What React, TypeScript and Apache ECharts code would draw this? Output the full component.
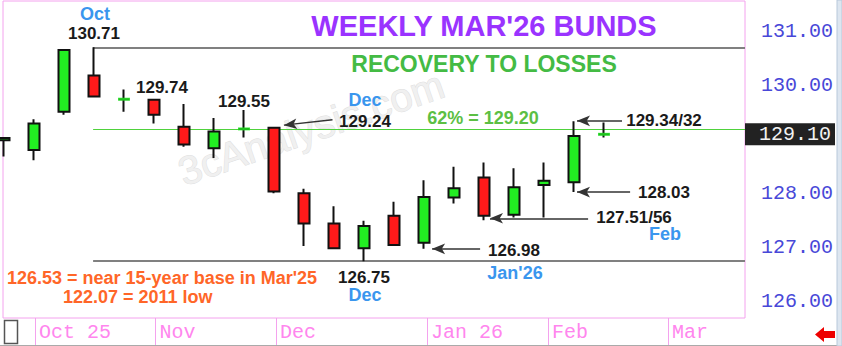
import React, { useEffect, useRef } from 'react';
import * as echarts from 'echarts';

// Weekly Mar'26 Bund candles (week starting Monday)
const weeks = [
  '2025-09-29', '2025-10-06', '2025-10-13', '2025-10-20', '2025-10-27',
  '2025-11-03', '2025-11-10', '2025-11-17', '2025-11-24', '2025-12-01',
  '2025-12-08', '2025-12-15', '2025-12-22', '2025-12-29', '2026-01-05',
  '2026-01-12', '2026-01-19', '2026-01-26', '2026-02-02', '2026-02-09',
  '2026-02-16',
];
const opens = [
  128.99, 128.81, 129.52, 130.19, 129.75,
  129.74, 129.24, 128.84, 129.20, 129.22,
  128.01, 127.45, 126.99, 127.59, 127.09,
  127.93, 128.30, 127.61, 128.16, 128.21,
  129.10,
];
const closes = [
  129.03, 129.30, 130.66, 129.80, 129.75,
  129.46, 128.91, 129.15, 129.20, 128.04,
  127.45, 126.99, 127.40, 127.05, 127.94,
  128.10, 127.59, 128.12, 128.24, 129.07,
  129.10,
];
const lows = [
  128.69, 128.62, 129.46, 129.78, 129.52,
  129.30, 128.87, 128.66, 129.04, 128.01,
  127.03, 126.97, 126.75, 127.04, 126.98,
  127.82, 127.51, 127.56, 127.56, 128.03,
  129.04,
];
const highs = [
  129.04, 129.38, 130.67, 130.71, 129.93,
  129.74, 129.66, 129.40, 129.55, 129.24,
  128.09, 127.77, 127.50, 127.85, 128.25,
  128.50, 128.58, 128.47, 128.58, 129.34,
  129.32,
];

const monthLabels = ['Oct 25', 'Nov', 'Dec', 'Jan 26', 'Feb', 'Mar'];
const monthTickPos = [1.03, 5.05, 9.07, 14.1, 18.13, 22.13];
const yTickValues = [126, 127, 128, 130, 131];

const octHigh = 130.71;
const decLow = 126.75;
const fib62 = 129.2;
const lastPrice = 129.1;

const X_MIN = -1 / 30;
const X_MAX = 24.7;
const Y_MIN = 125.6985;
const Y_MAX = 131.5685;

const PINK = '#f4a2ee';
const SANS = '"Liberation Sans", Arial, sans-serif';
const MONO = '"Liberation Mono", monospace';

export default function App() {
  const ref = useRef<HTMLDivElement>(null);

  useEffect(() => {
    document.body.style.margin = '0';
    const chart = echarts.init(ref.current!, null, { renderer: 'svg' });

    const candleData = weeks.map((w, i) => [i, opens[i], closes[i], lows[i], highs[i]]);
    const dojiData = weeks
      .map((w, i) => [i, (opens[i] + closes[i]) / 2, Math.abs(opens[i] - closes[i])])
      .filter((d) => d[2] < 0.015 && d[0] > 0)
      .map((d) => [d[0], d[1]]);

    const arrowStyle = { color: '#333', width: 1.5, type: 'solid' as const };
    const arrow = (from: number[], to: number[]) => [
      { coord: from, symbol: 'none', lineStyle: arrowStyle },
      { coord: to, symbol: 'arrow', symbolSize: [8, 13], lineStyle: arrowStyle },
    ];
    const hline = (v: number, color: string, width: number) => [
      { coord: [2.97, v], symbol: 'none', lineStyle: { color, width, type: 'solid', opacity: 1 } },
      { coord: [X_MAX, v], symbol: 'none', lineStyle: { color, width, type: 'solid', opacity: 1 } },
    ];

    const txt = (
      text: string,
      x: number,
      y: number,
      color: string,
      size: number,
      align: string = 'center',
      weight: string = 'bold'
    ) => ({
      type: 'text',
      x,
      y,
      z: 100,
      style: {
        text,
        fill: color,
        font: `${weight} ${size}px ${SANS}`,
        align,
        verticalAlign: 'middle',
      },
    });

    const BLUE = '#3a96ee';
    const BLACK = '#1a1a1a';
    const ORANGE = '#ff6628';

    const option: any = {
      animation: false,
      backgroundColor: '#ffffff',
      grid: {
        left: 3,
        top: 1,
        width: 742,
        height: 317,
        show: true,
        borderColor: PINK,
        borderWidth: 1,
        backgroundColor: 'transparent',
      },
      xAxis: {
        type: 'value',
        min: X_MIN,
        max: X_MAX,
        axisLine: { show: false },
        splitLine: { show: false },
        axisTick: {
          show: true,
          customValues: monthTickPos,
          length: 28,
          inside: false,
          lineStyle: { color: PINK, width: 1 },
        },
        axisLabel: {
          customValues: monthTickPos,
          formatter: (v: number) => {
            const k = monthTickPos.findIndex((p) => Math.abs(p - v) < 0.001);
            return k >= 0 ? monthLabels[k] : '';
          },
          align: 'left',
          padding: [0, 0, 0, 4],
          margin: 4,
          fontFamily: MONO,
          fontSize: 20,
          color: '#ff86ee',
        },
      },
      yAxis: {
        type: 'value',
        position: 'right',
        min: Y_MIN,
        max: Y_MAX,
        axisLine: { show: false },
        axisTick: { show: false },
        splitLine: { show: false },
        axisLabel: {
          customValues: yTickValues,
          formatter: (v: number) => v.toFixed(2),
          margin: 16,
          fontFamily: MONO,
          fontSize: 20,
          color: '#4848d8',
        },
      },
      series: [
        {
          type: 'candlestick',
          name: 'Bund',
          data: candleData,
          dimensions: ['week', 'open', 'close', 'lowest', 'highest'],
          encode: { x: 'week', y: ['open', 'close', 'lowest', 'highest'] },
          barWidth: 12,
          clip: true,
          itemStyle: {
            color: '#22ee22',
            color0: '#ff1a1a',
            borderColor: '#111',
            borderColor0: '#111',
            borderColorDoji: '#111',
            borderWidth: 2,
          },
          markLine: {
            silent: true,
            symbol: ['none', 'none'],
            label: { show: false },
            data: [
              hline(octHigh, '#808080', 2),
              hline(decLow, '#808080', 2),
              hline(fib62, '#4fd23c', 1.2),
              [
                { coord: [X_MAX, lastPrice], symbol: 'none', lineStyle: { color: 'rgba(0,0,0,0)', width: 0 } },
                {
                  coord: [X_MAX, lastPrice],
                  symbol: 'none',
                  lineStyle: { color: 'rgba(0,0,0,0)', width: 0 },
                  label: {
                    show: true,
                    position: 'end',
                    distance: 2,
                    formatter: lastPrice.toFixed(2),
                    backgroundColor: '#222',
                    color: '#f2f2f2',
                    fontFamily: MONO,
                    fontSize: 20,
                    lineHeight: 18,
                    padding: [2, 4, 2, 14],
                    align: 'left',
                    verticalAlign: 'middle',
                  },
                },
              ],
              arrow([10.95, 129.37], [9.33, 129.27]),
              arrow([20.6, 129.35], [19.1, 129.35]),
              arrow([20.87, 128.03], [19.1, 128.03]),
              arrow([19.47, 127.545], [16.2, 127.545]),
              arrow([15.87, 126.98], [14.27, 126.98]),
            ],
          },
          z: 5,
        },
        {
          type: 'scatter',
          name: 'doji',
          data: dojiData,
          symbol: 'rect',
          symbolSize: [12, 3],
          itemStyle: { color: '#22ee22' },
          z: 6,
          silent: true,
        },
      ],
      graphic: [
        {
          type: 'text',
          x: 311,
          y: 128,
          rotation: 0.33,
          z: 0,
          style: {
            text: '3cAnalysis.com',
            font: `40px ${SANS}`,
            fill: '#f0f0f0',
            stroke: '#dedede',
            lineWidth: 1,
            align: 'center',
            verticalAlign: 'middle',
          },
        },
        txt("WEEKLY MAR'26 BUNDS", 484, 26, '#9a33ff', 29),
        txt('RECOVERY TO LOSSES', 484, 64, '#44bb44', 23),
        txt('Oct', 95, 14, BLUE, 18),
        txt('130.71', 94, 33, BLACK, 17),
        txt('129.74', 162, 87, BLACK, 17),
        txt('129.55', 244, 101, BLACK, 17),
        txt('Dec', 365, 100, BLUE, 18),
        txt('129.24', 365, 121, BLACK, 17),
        txt('62% = 129.20', 483, 118, '#5cbf44', 18),
        txt('129.34/32', 664, 120, BLACK, 17),
        txt('128.03', 664, 192, BLACK, 17),
        txt('127.51/56', 634, 217, BLACK, 17),
        txt('Feb', 665, 234, BLUE, 18),
        txt('126.98', 514, 250, BLACK, 17),
        txt("Jan'26", 515, 273, BLUE, 18),
        txt('126.75', 364, 277, BLACK, 17),
        txt('Dec', 365, 295, BLUE, 18),
        txt("126.53 = near 15-year base in Mar'25", 7, 278, ORANGE, 18, 'left'),
        txt('122.07 = 2011 low', 63, 297, ORANGE, 18, 'left'),
        {
          type: 'rect',
          z: 50,
          shape: { x: 4.5, y: 320.5, width: 13, height: 23 },
          style: { fill: '#fff', stroke: '#555', lineWidth: 1.5 },
        },
        {
          type: 'polygon',
          z: 50,
          shape: {
            points: [
              [815, 334.5], [824, 327], [824, 331], [835, 331],
              [835, 338], [824, 338], [824, 342],
            ],
          },
          style: { fill: '#ee0000' },
        },
        {
          type: 'line',
          z: 50,
          shape: { x1: 0, y1: 345.5, x2: 842, y2: 345.5 },
          style: { stroke: '#aaaaaa', lineWidth: 1 },
        },
        {
          type: 'rect',
          z: 50,
          shape: { x: 837, y: 0, width: 5, height: 346 },
          style: { fill: '#dde6f0', stroke: '#b8c8da', lineWidth: 1 },
        },
      ],
    };

    chart.setOption(option);
    return () => chart.dispose();
  }, []);

  return (
    <div
      ref={ref}
      style={{ position: 'absolute', left: 0, top: 0, width: 842, height: 346, background: '#fff' }}
    />
  );
}
